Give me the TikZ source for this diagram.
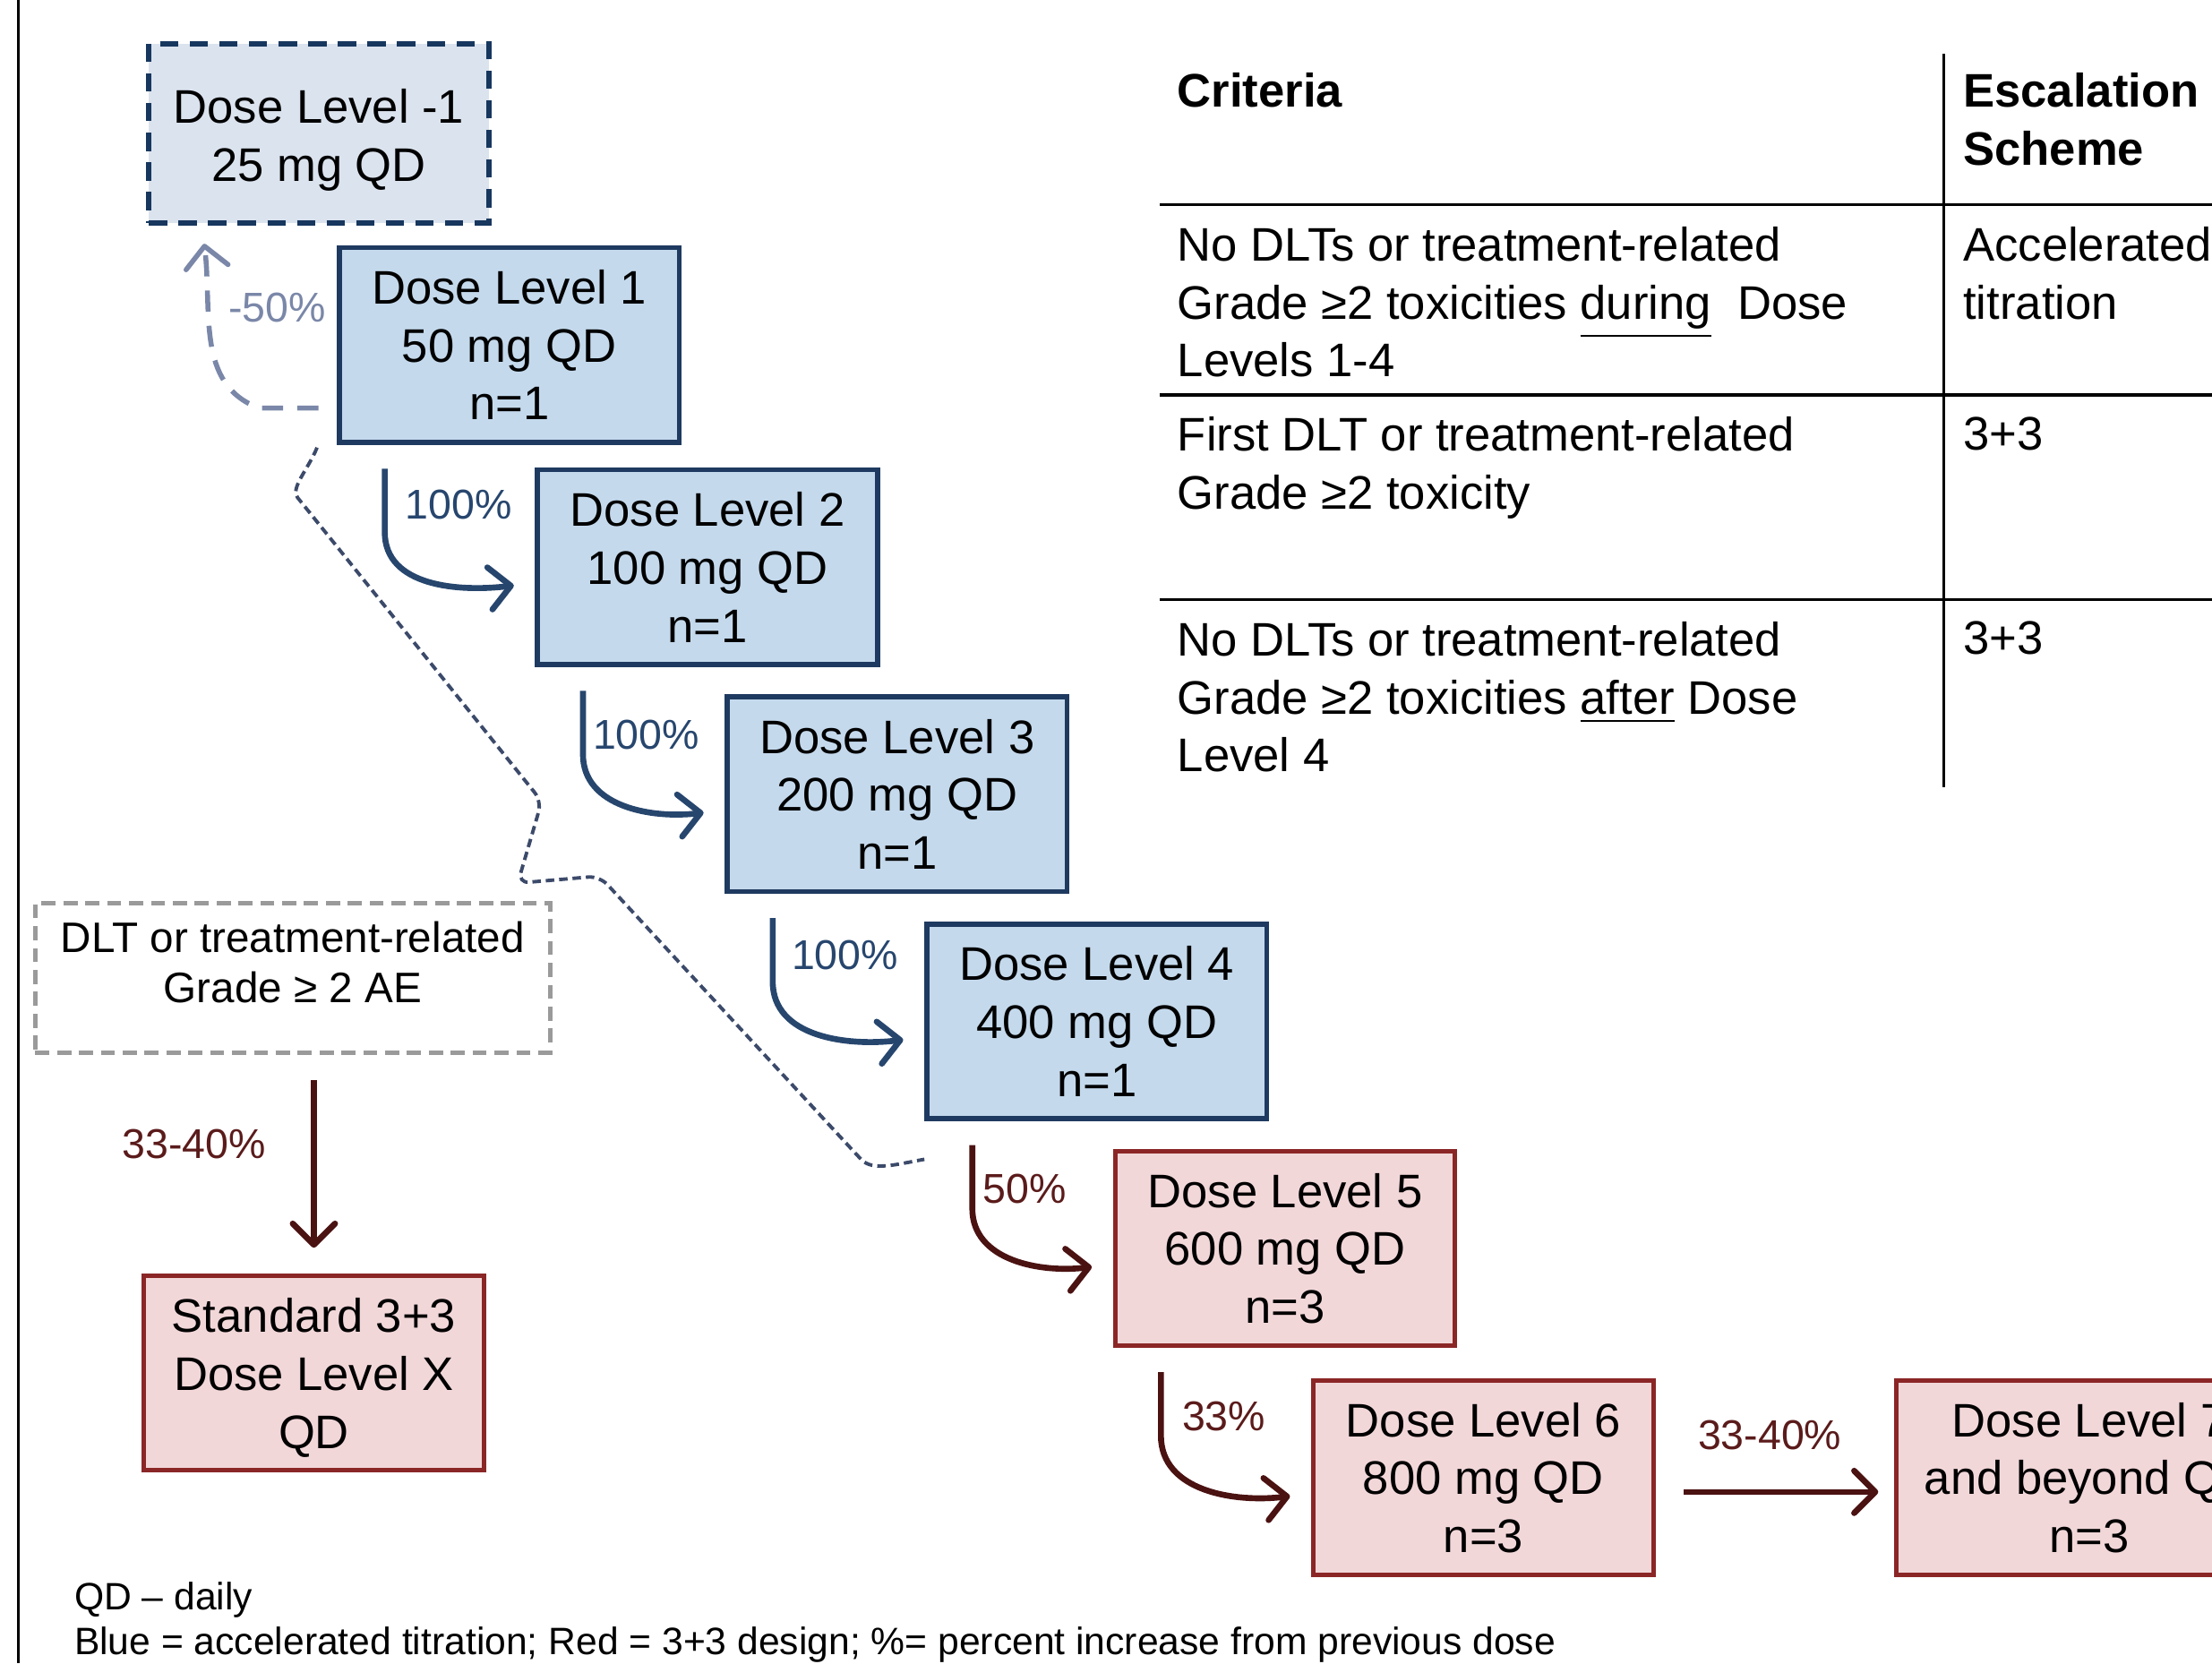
\documentclass[tikz,border=0pt]{standalone}
\usepackage{fontspec}
\setmainfont{Liberation Sans}
\usetikzlibrary{arrows.meta}

\definecolor{boxblue}{HTML}{C4D9EC}
\definecolor{boxgray}{HTML}{DBE3EE}
\definecolor{boxred}{HTML}{F2D7D9}
\definecolor{navyb}{HTML}{1F3A60}
\definecolor{navyd}{HTML}{17375E}
\definecolor{redb}{HTML}{8B2626}
\definecolor{arrblue}{HTML}{27466E}
\definecolor{arrred}{HTML}{4B1212}
\definecolor{labred}{HTML}{5B1B1B}
\definecolor{grayblue}{HTML}{7A87A8}
\definecolor{brk}{HTML}{3C4A6A}
\definecolor{grayd}{HTML}{9A9A9A}

\newcommand\boxfs{\fontsize{9.5}{11.7}\selectfont}
\newcommand\pctfs{\fontsize{8.4}{10}\selectfont}
\newcommand\dltfs{\fontsize{8.6}{10.2}\selectfont}
\newcommand\notefs{\fontsize{7.7}{9.1}\selectfont}

\begin{document}
\begin{tikzpicture}[
  dosebox/.style={draw=navyb, line width=1pt, fill=boxblue, minimum width=2.41cm, minimum height=1.38cm, inner sep=0pt, align=center, font=\boxfs},
  redbox/.style={dosebox, draw=redb, fill=boxred, line width=0.9pt},
  backbox/.style={dosebox, draw=navyd, fill=boxgray, line width=1pt, dash pattern=on 0.13cm off 0.08cm, minimum height=1.27cm},
  dltbox/.style={draw=grayd, line width=0.9pt, dash pattern=on 0.1cm off 0.055cm, minimum width=3.65cm, minimum height=1.06cm},
  uparr/.style={draw=arrblue, line width=1.2pt, -{Straight Barb[length=1.5mm,width=3mm,round]}},
  redarr/.style={uparr, draw=arrred},
  backarr/.style={draw=grayblue, line width=1pt, dash pattern=on 0.15cm off 0.1cm, -{Straight Barb[length=1.5mm,width=3mm,round]}},
  bracket/.style={draw=brk, line width=0.7pt, dash pattern=on 0.06cm off 0.035cm, rounded corners=0.08cm},
  pctb/.style={text=arrblue, font=\pctfs, inner sep=0pt},
  pctr/.style={pctb, text=labred},
  cell/.style={anchor=north west, align=left, inner sep=0pt, font=\boxfs},
  note/.style={anchor=west, inner sep=0pt, font=\notefs}
]

\useasboundingbox (0,0) rectangle (15.68,-11.79);
\clip (0,0) rectangle (15.68,-11.79);

\draw[line width=0.5pt] (0.13,0) -- (0.13,-11.79);

\node[backbox] (dlm) at (2.26,-0.945) {\rule{0pt}{9.7pt}Dose Level -1\\25 mg QD};
\node[dosebox] (dl1) at (3.61,-2.445) {Dose Level 1\\50 mg QD\\n=1};
\node[dosebox] (dl2) at (5.015,-4.02) {Dose Level 2\\100 mg QD\\n=1};
\node[dosebox] (dl3) at (6.36,-5.63) {Dose Level 3\\200 mg QD\\n=1};
\node[dosebox] (dl4) at (7.775,-7.24) {Dose Level 4\\400 mg QD\\n=1};
\node[redbox] (dl5) at (9.11,-8.85) {Dose Level 5\\600 mg QD\\n=3};
\node[redbox] (dl6) at (10.515,-10.475) {Dose Level 6\\800 mg QD\\n=3};
\node[redbox, minimum width=2.74cm] (dl7) at (14.81,-10.475) {Dose Level 7\\and beyond QD\\n=3};

\node[dltbox] (dlt) at (2.075,-6.93) {};
\node[font=\dltfs, align=center, inner sep=0pt] (dlttxt) at (2.075,-6.82) {DLT or treatment-related\\Grade ≥ 2 AE};
\node[redbox] (std) at (2.225,-9.73) {\rule{0pt}{8.9pt}Standard 3+3\\Dose Level X\\QD};

\draw[backarr] ([xshift=-0.13cm,yshift=0.26cm]dl1.south west) -- ++(-0.42,0) to[out=160,in=-83] ([xshift=0.41cm,yshift=-0.13cm]dlm.south west);
\node[pctb, text=grayblue] (pm) at (1.965,-2.18) {-50\%};

\draw[bracket] ([xshift=-0.14cm,yshift=-0.02cm]dl1.south west) to[out=-112,in=129] (2.16,-3.59) -- (3.84,-5.68) -- (3.67,-6.26) -- (4.25,-6.21) -- (6.05,-8.16) to[out=-47,in=190] ([yshift=-0.27cm]dl4.south west);

\draw[uparr] ([xshift=0.34cm,yshift=-0.17cm]dl1.south west) -- ++(0,-0.45) to[out=-90,in=187] ([xshift=-0.15cm,yshift=-0.13cm]dl2.west);
\node[pctb] (p12) at (3.25,-3.58) {100\%};

\draw[uparr] ([xshift=0.34cm,yshift=-0.17cm]dl2.south west) -- ++(0,-0.45) to[out=-90,in=187] ([xshift=-0.15cm,yshift=-0.13cm]dl3.west);
\node[pctb] (p23) at (4.58,-5.21) {100\%};

\draw[uparr] ([xshift=0.34cm,yshift=-0.17cm]dl3.south west) -- ++(0,-0.45) to[out=-90,in=187] ([xshift=-0.15cm,yshift=-0.13cm]dl4.west);
\node[pctb] (p34) at (5.99,-6.77) {100\%};

\draw[redarr] ([xshift=0.34cm,yshift=-0.17cm]dl4.south west) -- ++(0,-0.45) to[out=-90,in=187] ([xshift=-0.15cm,yshift=-0.13cm]dl5.west);
\node[pctr] (p45) at (7.265,-8.43) {50\%};

\draw[redarr] ([xshift=0.34cm,yshift=-0.17cm]dl5.south west) -- ++(0,-0.45) to[out=-90,in=187] ([xshift=-0.15cm,yshift=-0.13cm]dl6.west);
\node[pctr] (p56) at (8.675,-10.04) {33\%};

\draw[redarr] ([xshift=0.2cm,yshift=-0.1cm]dl6.east) -- ([xshift=-0.11cm,yshift=-0.1cm]dl7.west);
\node[pctr] (p67) at (12.545,-10.17) {33-40\%};

\draw[redarr] ([yshift=-0.18cm]dlt.south -| std.north) -- ([yshift=0.18cm]std.north);
\node[pctr] (pstd) at (1.375,-8.11) {33-40\%};

\draw[line width=0.6pt] (8.22,-1.45) -- (15.68,-1.45);
\draw[line width=0.6pt] (8.22,-2.80) -- (15.68,-2.80);
\draw[line width=0.6pt] (8.22,-4.25) -- (15.68,-4.25);
\draw[line width=0.6pt] (13.78,-0.38) -- (13.78,-5.58);

\node[cell, font=\boxfs\bfseries] (hcrit) at (8.34,-0.51) {Criteria};
\node[cell, font=\boxfs\bfseries] (hesc) at (13.91,-0.51) {Escalation\\Scheme};
\node[cell] (crit1) at (8.34,-1.60) {No DLTs or treatment-related\\Grade ≥2 toxicities \underline{during}\ \ Dose\\Levels 1-4};
\node[cell] (esc1) at (13.91,-1.60) {Accelerated\\titration};
\node[cell] (crit2) at (8.34,-2.95) {First DLT or treatment-related\\Grade ≥2 toxicity};
\node[cell] (esc2) at (13.91,-2.95) {3+3};
\node[cell] (crit3) at (8.34,-4.40) {No DLTs or treatment-related\\Grade ≥2 toxicities \underline{after} Dose\\Level 4};
\node[cell] (esc3) at (13.91,-4.40) {3+3};

\node[note] (qd) at (0.52,-11.34) {QD -- daily};
\node[note] (legend) at (0.52,-11.66) {Blue = accelerated titration; Red = 3+3 design; \%= percent increase from previous dose};

\end{tikzpicture}
\end{document}
